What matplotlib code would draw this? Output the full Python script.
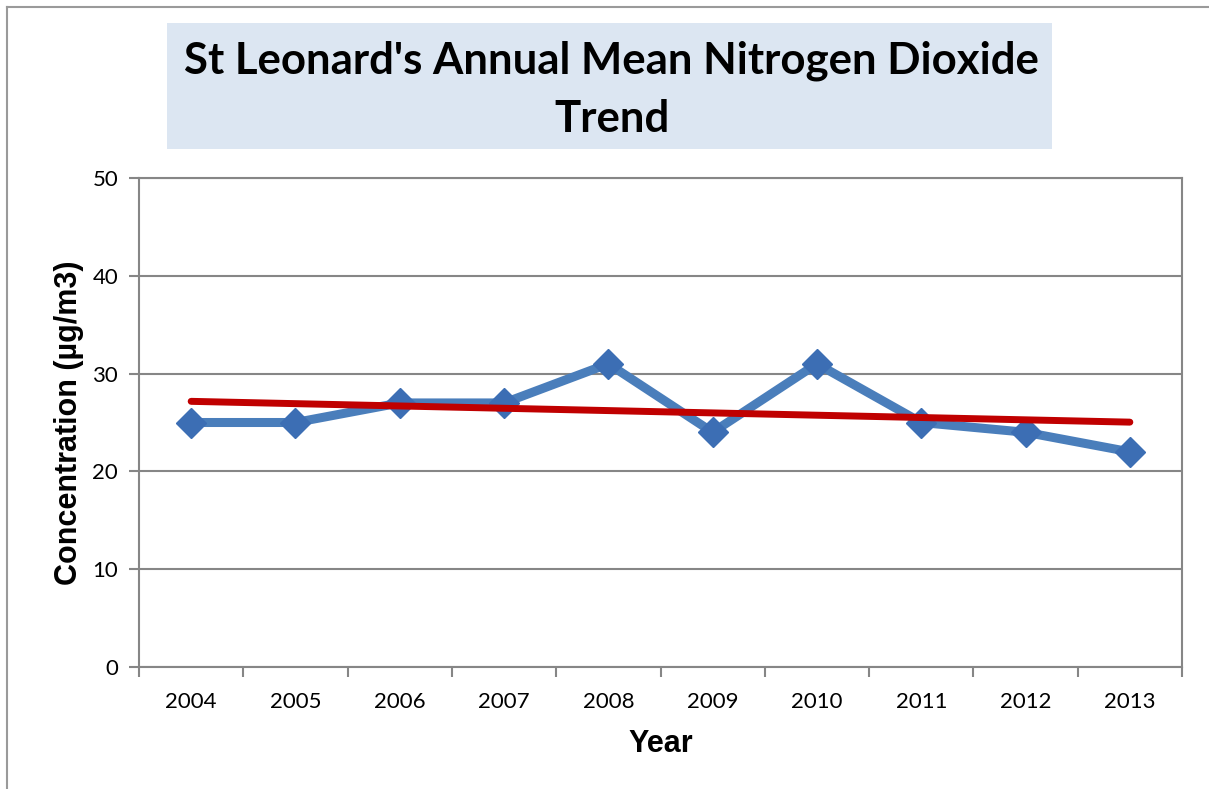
import matplotlib
matplotlib.use("Agg")
import matplotlib.pyplot as plt
import numpy as np
from matplotlib.patches import Rectangle
from matplotlib.lines import Line2D

years = ["2004", "2005", "2006", "2007", "2008", "2009", "2010", "2011", "2012", "2013"]
no2 = [25, 25, 27, 27, 31, 24, 31, 25, 24, 22]
y_ticks = [0, 10, 20, 30, 40, 50]
title_lines = ["St Leonard's Annual Mean Nitrogen Dioxide", "Trend"]

grey = "#868686"
fig = plt.figure(figsize=(12.09, 7.89), dpi=100)

# outer chart border (left and top)
fig.add_artist(Line2D([7/1209, 7/1209], [0, 1-7/789], color="#9a9a9a", lw=1.5, transform=fig.transFigure))
fig.add_artist(Line2D([7/1209, 1], [1-7/789, 1-7/789], color="#9a9a9a", lw=1.5, transform=fig.transFigure))

# title box
fig.add_artist(Rectangle((167/1209, 1-149/789), (1052-167)/1209, (149-23)/789,
                         transform=fig.transFigure, facecolor="#DCE6F2", edgecolor="none"))
for line, yc in zip(title_lines, [61, 119]):
    fig.text((167+1052)/2/1209 + 0.002, 1-yc/789, line, ha="center", va="center",
             fontsize=31.5, fontweight="bold", family="Lato")

ax = fig.add_axes([139/1209, 1-667/789, (1182-139)/1209, (667-178)/789])
x = np.arange(len(years))
ax.set_xlim(-0.5, len(years)-0.5)
ax.set_ylim(0, 50)
ax.set_yticks(y_ticks)
ax.set_yticklabels([str(t) for t in y_ticks], family="Lato", fontsize=16)
ax.set_xticks(x)
ax.set_xticklabels(years, family="Lato", fontsize=16)
ax.set_xticks(np.arange(-0.5, len(years), 1.0), minor=True)
ax.tick_params(axis="x", which="major", length=0, pad=18)
ax.tick_params(axis="x", which="minor", length=7, width=1.5, color=grey, direction="out")
ax.tick_params(axis="y", length=7, width=1.5, color=grey, pad=8)
for s in ax.spines.values():
    s.set_color(grey)
    s.set_linewidth(1.5)
ax.grid(axis="y", color=grey, lw=1.5)
ax.set_axisbelow(True)

ax.plot(x, no2, color="#4A7EBB", lw=6.5, marker="D", markersize=15,
        markerfacecolor="#3C6EB4", markeredgecolor="#3C6EB4", zorder=3)
coef = np.polyfit(x, no2, 1)
trend = np.polyval(coef, x)
ax.plot(x, trend, color="#C00000", lw=5, solid_capstyle="round", zorder=4)

ax.set_xlabel("Year", family="Liberation Sans", fontweight="bold", fontsize=22, labelpad=12)
ax.set_ylabel("Concentration (µg/m3)", family="Liberation Sans", fontweight="bold", fontsize=22, labelpad=6)

fig.savefig("out.png", dpi=100)
